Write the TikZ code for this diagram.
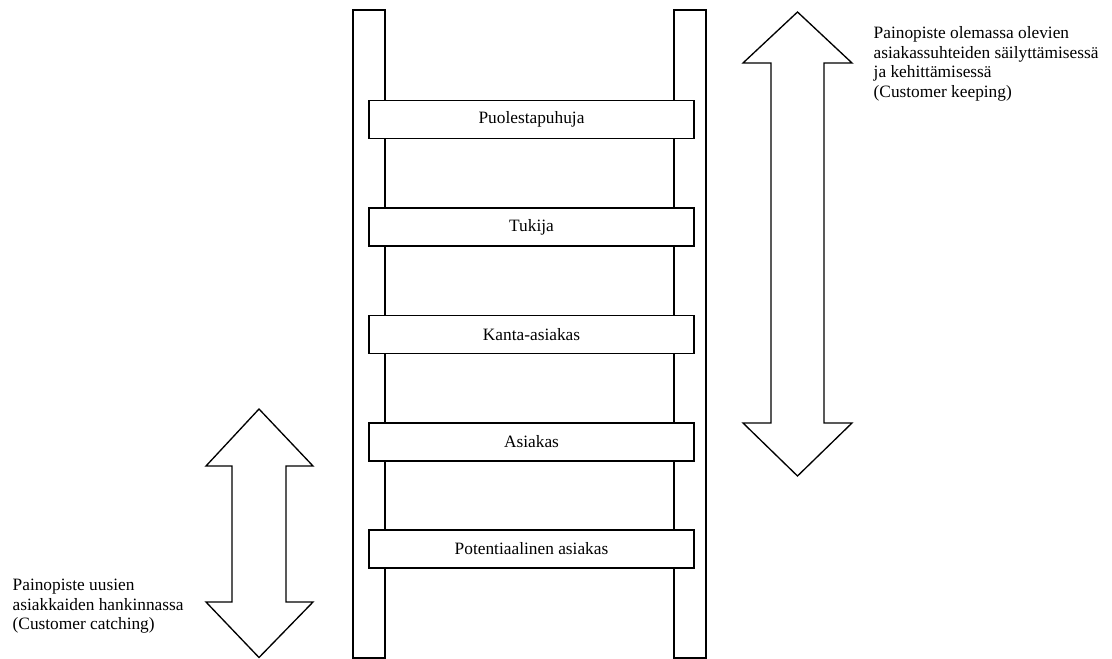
\documentclass[tikz,border=0pt]{standalone}
\usepackage{fontspec}
\setmainfont{Liberation Serif}
\begin{document}
\begin{tikzpicture}[x=0.75pt,y=-0.75pt,line width=1pt,
  rail/.style={draw,fill=white},
  rung/.style={draw,fill=white,minimum width=243.75pt,minimum height=28.5pt,
    inner sep=0pt,font=\fontsize{13}{14.6}\selectfont},
  note/.style={align=left,inner sep=0pt,font=\fontsize{13}{14.6}\selectfont},
  bigarrow/.style={draw,line join=miter}]
\useasboundingbox (0,0) rectangle (1112,659);

% ladder rails
\draw[rail] (353,10) rectangle (385,658);
\draw[rail] (674,10) rectangle (706,658);

% ladder rungs
\node[rung] (r1) at (531.5,119.5) {Puolestapuhuja};
\node[rung] (r2) at (531.5,227) {Tukija};
\node[rung] (r3) at (531.5,334.5) {Kanta-asiakas};
\node[rung] (r4) at (531.5,442) {Asiakas};
\node[rung] (r5) at (531.5,549) {Potentiaalinen asiakas};

% double-headed block arrow on the right
\draw[bigarrow] (797.5,12) -- (852,63) -- (824,63) -- (824,423) -- (852,423)
  -- (797.5,476) -- (743,423) -- (771,423) -- (771,63) -- (743,63) -- cycle;

% double-headed block arrow on the left
\draw[bigarrow] (259,409) -- (313,466) -- (286,466) -- (286,602) -- (313,602)
  -- (259,657.5) -- (206,602) -- (232,602) -- (232,466) -- (206,466) -- cycle;

% captions
\node[note,anchor=north west] (keep) at (873,26)
  {Painopiste olemassa olevien\\asiakassuhteiden säilyttämisessä\\ja kehittämisessä\\(Customer keeping)};
\node[note,anchor=north west] (catch) at (12,578.5)
  {Painopiste uusien\\asiakkaiden hankinnassa\\(Customer catching)};
\end{tikzpicture}
\end{document}
